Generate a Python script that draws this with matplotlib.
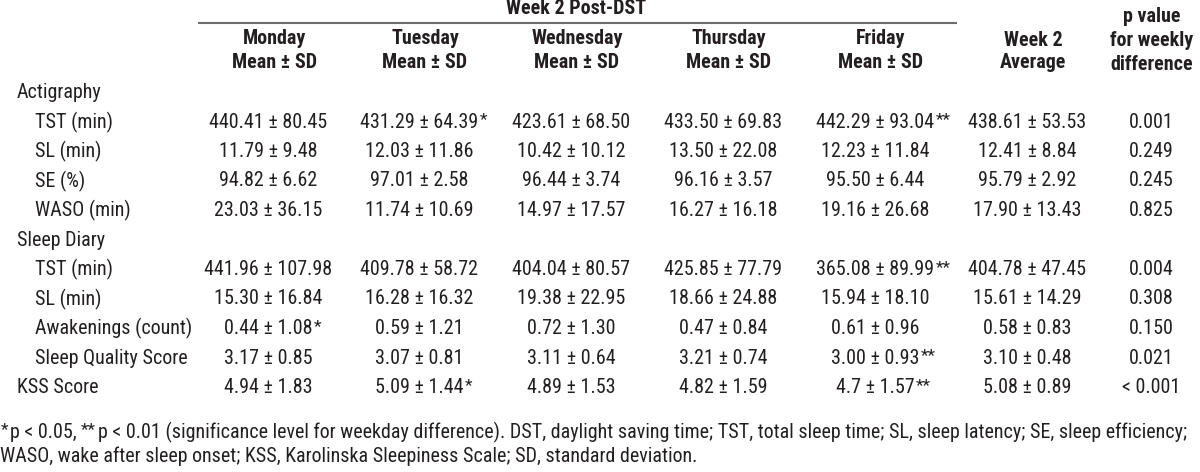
import matplotlib
matplotlib.use("Agg")
import matplotlib.pyplot as plt

plt.rcParams['font.family'] = ['Roboto Condensed', 'Liberation Sans', 'DejaVu Sans']

W, H = 1200, 472
TXT = '#231f20'
FS = 14.4

# table content
day_headers = ["Monday", "Tuesday", "Wednesday", "Thursday", "Friday"]
row_labels = ["Actigraphy", "TST (min)", "SL (min)", "SE (%)", "WASO (min)",
              "Sleep Diary", "TST (min)", "SL (min)", "Awakenings (count)",
              "Sleep Quality Score", "KSS Score"]
row_indent = [False, True, True, True, True, False, True, True, True, True, False]
row_has_data = [False, True, True, True, True, False, True, True, True, True, True]

monday = ["440.41 ± 80.45", "11.79 ± 9.48", "94.82 ± 6.62", "23.03 ± 36.15",
          "441.96 ± 107.98", "15.30 ± 16.84", "0.44 ± 1.08", "3.17 ± 0.85", "4.94 ± 1.83"]
monday_sig = ["", "", "", "", "", "", "*", "", ""]
tuesday = ["431.29 ± 64.39", "12.03 ± 11.86", "97.01 ± 2.58", "11.74 ± 10.69",
           "409.78 ± 58.72", "16.28 ± 16.32", "0.59 ± 1.21", "3.07 ± 0.81", "5.09 ± 1.44"]
tuesday_sig = ["*", "", "", "", "", "", "", "", "*"]
wednesday = ["423.61 ± 68.50", "10.42 ± 10.12", "96.44 ± 3.74", "14.97 ± 17.57",
             "404.04 ± 80.57", "19.38 ± 22.95", "0.72 ± 1.30", "3.11 ± 0.64", "4.89 ± 1.53"]
wednesday_sig = [""] * 9
thursday = ["433.50 ± 69.83", "13.50 ± 22.08", "96.16 ± 3.57", "16.27 ± 16.18",
            "425.85 ± 77.79", "18.66 ± 24.88", "0.47 ± 0.84", "3.21 ± 0.74", "4.82 ± 1.59"]
thursday_sig = [""] * 9
friday = ["442.29 ± 93.04", "12.23 ± 11.84", "95.50 ± 6.44", "19.16 ± 26.68",
          "365.08 ± 89.99", "15.94 ± 18.10", "0.61 ± 0.96", "3.00 ± 0.93", "4.7 ± 1.57"]
friday_sig = ["**", "", "", "", "**", "", "", "**", "**"]
week2_avg = ["438.61 ± 53.53", "12.41 ± 8.84", "95.79 ± 2.92", "17.90 ± 13.43",
             "404.78 ± 47.45", "15.61 ± 14.29", "0.58 ± 0.83", "3.10 ± 0.48", "5.08 ± 0.89"]
p_values = ["0.001", "0.249", "0.245", "0.825", "0.004", "0.308", "0.150", "0.021", "< 0.001"]

footnote1 = ("p < 0.05, ", "p < 0.01 (significance level for weekday difference). DST, daylight saving time; "
             "TST, total sleep time; SL, sleep latency; SE, sleep efficiency;")
footnote2 = "WASO, wake after sleep onset; KSS, Karolinska Sleepiness Scale; SD, standard deviation."

# layout in pixels (top-left origin)
head_x = [274, 425, 577, 729, 881, 1033, 1152]
val_x = [268, 419, 571, 723, 875, 1027, 1151]
ROW0, ROWSTEP = 93, 29.5
row_y = [ROW0 if i == 0 else 122 + ROWSTEP * (i - 1) for i in range(len(row_labels))]

fig = plt.figure(figsize=(W / 100, H / 100), dpi=100)
fig.patch.set_facecolor('white')
ax = fig.add_axes([0, 0, 1, 1])
ax.set_xlim(0, W)
ax.set_ylim(H, 0)
ax.axis('off')

bold = dict(ha='center', va='center', fontsize=FS, fontweight='bold', color=TXT)

# spanning header
ax.text(576, 9, "Week 2 Post-DST", **bold)
ax.plot([198, 957], [23, 23], color='#6d6d6d', lw=1.5, solid_capstyle='butt')

for i, d in enumerate(day_headers):
    ax.text(head_x[i], 39, d, **bold)
    ax.text(head_x[i], 62, "Mean ± SD", **bold)
ax.text(head_x[5], 40, "Week 2", **bold)
ax.text(head_x[5], 63, "Average", **bold)
for k, s in enumerate(["p value", "for weekly", "difference"]):
    ax.text(head_x[6], 16 + 24 * k, s, **bold)

# row labels
for lab, ind, y in zip(row_labels, row_indent, row_y):
    ax.text(35 if ind else 17, y, lab, ha='left', va='center', fontsize=FS, color=TXT)

columns = [(monday, monday_sig), (tuesday, tuesday_sig), (wednesday, wednesday_sig),
           (thursday, thursday_sig), (friday, friday_sig), (week2_avg, [""] * 9),
           (p_values, [""] * 9)]
data_y = [y for y, h in zip(row_y, row_has_data) if h]

for ci, (vals, sigs) in enumerate(columns):
    for v, s, y in zip(vals, sigs, data_y):
        t = ax.text(val_x[ci], y, v, ha='center', va='center', fontsize=FS, color=TXT)
        if s:
            ax.annotate(s, xy=(1, 1), xycoords=t, xytext=(1, 0), textcoords='offset points',
                        ha='left', va='top', fontsize=FS - 2, color=TXT)

# footnote
FN = 14.4
t1 = ax.text(1, 430, "*", ha='left', va='center', fontsize=FN - 2, color=TXT)
t2 = ax.annotate(footnote1[0], xy=(1, 0.5), xycoords=t1, xytext=(1, -2), textcoords='offset points',
                 ha='left', va='center', fontsize=FN, color=TXT)
t3 = ax.annotate("**", xy=(1, 0.5), xycoords=t2, xytext=(0, 2), textcoords='offset points',
                 ha='left', va='center', fontsize=FN - 2, color=TXT)
ax.annotate(footnote1[1], xy=(1, 0.5), xycoords=t3, xytext=(1, -2), textcoords='offset points',
            ha='left', va='center', fontsize=FN, color=TXT)
ax.text(0, 456, footnote2, ha='left', va='center', fontsize=FN, color=TXT)

fig.savefig('out.png', dpi=100, facecolor='white')
